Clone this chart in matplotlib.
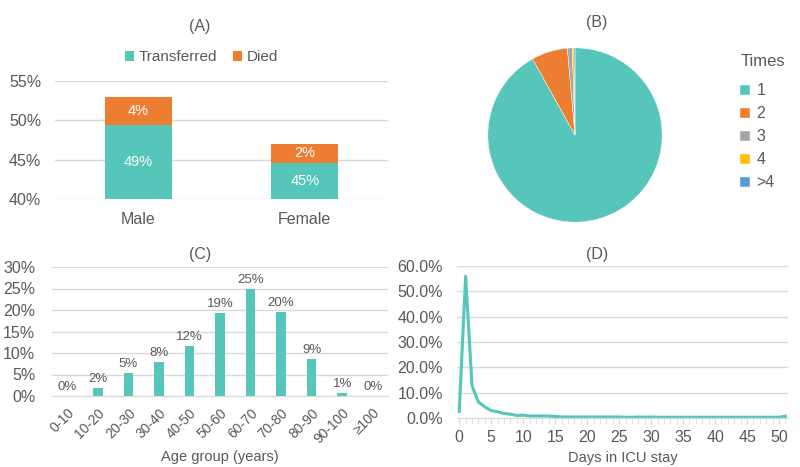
import matplotlib.pyplot as plt
import numpy as np

plt.rcParams['font.family'] = ['Liberation Sans', 'DejaVu Sans']

teal = '#55C6B9'
orange = '#ED7D31'
txt = '#595959'
grid = '#D9D9D9'

# (A) outcome by sex
sexes = ['Male', 'Female']
transferred = [49.4, 44.6]
died = [3.6, 2.4]
transferred_lbl = ['49%', '45%']
died_lbl = ['4%', '2%']

# (B) number of ICU admissions
times = ['1', '2', '3', '4', '>4']
times_share = [91.9, 6.7, 0.9, 0.3, 0.2]
pie_colors = [teal, orange, '#A5A5A5', '#FFC000', '#5B9BD5']

# (C) age groups
ages = ['0-10', '10-20', '20-30', '30-40', '40-50', '50-60', '60-70',
        '70-80', '80-90', '90-100', '\u2265100']
age_share = [0.05, 1.8, 5.4, 7.8, 11.7, 19.2, 24.8, 19.5, 8.6, 0.7, 0.02]
age_lbl = ['0%', '2%', '5%', '8%', '12%', '19%', '25%', '20%', '9%', '1%', '0%']

# (D) days in ICU stay, 0..51
days = list(range(52))
day_share = [2.6, 56.0, 12.7, 6.3, 4.4, 2.9, 2.5, 1.8, 1.5, 1.0,
             1.1, 0.8, 0.8, 0.8, 0.8, 0.6, 0.4, 0.4, 0.4, 0.4,
             0.4, 0.4, 0.4, 0.4, 0.4, 0.4, 0.3, 0.3, 0.4, 0.3,
             0.4, 0.3, 0.3, 0.3, 0.3, 0.3, 0.3, 0.3, 0.3, 0.3,
             0.3, 0.3, 0.3, 0.3, 0.3, 0.3, 0.3, 0.3, 0.3, 0.3,
             0.3, 0.7]

W, H = 800, 467
fig = plt.figure(figsize=(8, 4.67), dpi=100)


def box(l, t, r, b):
    return [l / W, 1 - b / H, (r - l) / W, (b - t) / H]


def style(ax):
    for s in ['top', 'right', 'left']:
        ax.spines[s].set_visible(False)
    ax.spines['bottom'].set_color(grid)
    ax.yaxis.grid(True, color=grid, lw=1)
    ax.set_axisbelow(True)
    ax.tick_params(axis='y', length=0, colors=txt, labelsize=11.5, pad=10)
    ax.tick_params(axis='x', length=0, colors=txt, labelsize=11.5)


# ---- A
axA = fig.add_axes(box(55, 81, 388, 199))
style(axA)
x = np.arange(len(sexes))
axA.bar(x, transferred, width=0.4, color=teal, label='Transferred')
axA.bar(x, died, width=0.4, bottom=transferred, color=orange, label='Died')
for i in range(len(sexes)):
    axA.text(x[i], 40 + (transferred[i] - 40) / 2, transferred_lbl[i], ha='center', va='center',
             color='white', fontsize=10.5)
    axA.text(x[i], transferred[i] + died[i] / 2, died_lbl[i], ha='center', va='center',
             color='white', fontsize=10.5)
axA.set_ylim(40, 55)
axA.set_xlim(-0.5, 1.5)
axA.set_yticks([40, 45, 50, 55])
axA.set_yticklabels(['%d%%' % v for v in [40, 45, 50, 55]])
axA.set_xticks(x)
axA.set_xticklabels(sexes)
axA.tick_params(axis='x', pad=9)
axA.spines['bottom'].set_visible(False)
axA.legend(loc='center', bbox_to_anchor=(0.44, 1.2), ncol=2, frameon=False,
           fontsize=11, labelcolor=txt, handlelength=0.6, handleheight=0.6,
           handletextpad=0.3, columnspacing=1.0)
fig.text(200 / W, 1 - 26 / H, '(A)', ha='center', va='center', color=txt, fontsize=11.5)

# ---- B
axB = fig.add_axes(box(575 - 88, 135 - 88, 575 + 88, 135 + 88))
wedges, _ = axB.pie(times_share, colors=pie_colors, startangle=90, counterclock=False,
                    wedgeprops=dict(linewidth=0.3, edgecolor='white'))
axB.set_xlim(-1.01, 1.01)
axB.set_ylim(-1.01, 1.01)
axB.set_aspect('equal')
leg = fig.legend(wedges, times, title='Times', loc='upper left',
                 bbox_to_anchor=(726 / W, 1 - 40 / H),
                 frameon=False, fontsize=11.5, labelcolor=txt, title_fontsize=12,
                 handlelength=0.6, handleheight=0.6, handletextpad=0.4, labelspacing=0.5)
leg.get_title().set_color(txt)
leg._legend_box.align = 'left'
leg._legend_box.sep = 10
fig.text(597 / W, 1 - 23 / H, '(B)', ha='center', va='center', color=txt, fontsize=11.5)

# ---- C
axC = fig.add_axes(box(52, 267, 388, 396))
style(axC)
xc = np.arange(len(ages))
axC.bar(xc, age_share, width=0.31, color=teal)
for i in range(len(ages)):
    axC.text(xc[i], age_share[i] + 0.7, age_lbl[i], ha='center', va='bottom',
             color=txt, fontsize=9.5)
axC.set_ylim(0, 30)
axC.set_xlim(-0.5, len(ages) - 0.5)
axC.set_yticks(range(0, 31, 5))
axC.set_yticklabels(['%d%%' % v for v in range(0, 31, 5)])
axC.tick_params(axis='y', pad=12)
axC.set_xticks(xc)
axC.set_xticklabels(ages, rotation=45, ha='right', rotation_mode='anchor', fontsize=10)
axC.tick_params(axis='x', pad=7)
axC.set_xlabel('Age group (years)', color=txt, fontsize=10.5, labelpad=3)
fig.text(200 / W, 1 - 255 / H, '(C)', ha='center', va='center', color=txt, fontsize=11.5)

# ---- D
axD = fig.add_axes(box(457, 266, 788, 418))
style(axD)
axD.plot(days, day_share, color=teal, lw=2.2)
axD.set_ylim(0, 60)
axD.set_xlim(-0.35, 51.4)
axD.set_yticks(range(0, 61, 10))
axD.set_yticklabels(['%.1f%%' % v for v in range(0, 61, 10)])
axD.set_xticks(range(0, 51, 5))
axD.set_xticks(days, minor=True)
axD.tick_params(axis='x', which='minor', length=4, color=grid, direction='out')
axD.tick_params(axis='x', which='major', length=4, color=grid, pad=5)
axD.set_xlabel('Days in ICU stay', color=txt, fontsize=10.5, labelpad=4)
fig.text(597 / W, 1 - 255 / H, '(D)', ha='center', va='center', color=txt, fontsize=11.5)

fig.savefig('out.png', dpi=100)
